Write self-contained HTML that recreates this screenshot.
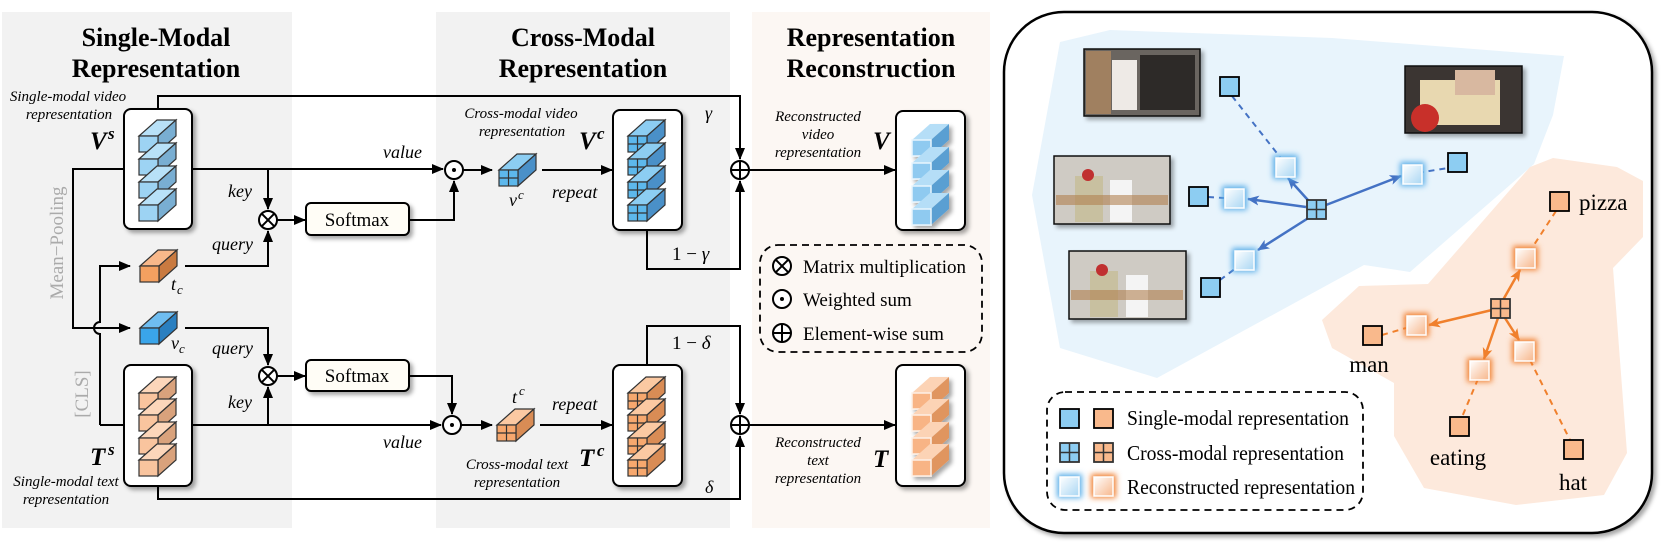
<!DOCTYPE html>
<html><head><meta charset="utf-8"><style>html,body{margin:0;padding:0;background:#fff}svg{display:block}</style></head>
<body>
<svg width="1661" height="546" viewBox="0 0 1661 546" xmlns="http://www.w3.org/2000/svg" font-family="Liberation Serif, serif">
<defs>
<marker id="ar" markerWidth="12" markerHeight="10" refX="11" refY="5" orient="auto" markerUnits="userSpaceOnUse"><path d="M0,0 L12,5 L0,10 z" fill="#000"/></marker>
<marker id="ab" markerWidth="12" markerHeight="10" refX="11" refY="5" orient="auto" markerUnits="userSpaceOnUse"><path d="M0,0 L12,5 L0,10 L3,5 z" fill="#4472c4"/></marker>
<marker id="ao" markerWidth="12" markerHeight="10" refX="11" refY="5" orient="auto" markerUnits="userSpaceOnUse"><path d="M0,0 L12,5 L0,10 L3,5 z" fill="#f0802c"/></marker>
<filter id="sh" x="-20%" y="-20%" width="150%" height="150%"><feDropShadow dx="3" dy="3" stdDeviation="2" flood-color="#000" flood-opacity="0.35"/></filter>
<filter id="gl" x="-60%" y="-60%" width="220%" height="220%"><feGaussianBlur stdDeviation="3"/></filter>
<linearGradient id="gb" x1="0" y1="0" x2="1" y2="1"><stop offset="0" stop-color="#fff"/><stop offset="1" stop-color="#a9d6f3"/></linearGradient>
<linearGradient id="go" x1="0" y1="0" x2="1" y2="1"><stop offset="0" stop-color="#fff"/><stop offset="1" stop-color="#f7b68a"/></linearGradient>
<g id="cb" stroke="#333" stroke-width="1.2"><polygon points="0,0 18,-16 37,-16 19,0" fill="#b8e1f8"/><polygon points="19,0 37,-16 37,0 19,16" fill="#79aed2"/><rect x="0" y="0" width="19" height="16" fill="#9dd3f3"/></g>
<g id="co" stroke="#333" stroke-width="1.2"><polygon points="0,0 18,-16 37,-16 19,0" fill="#fcd6ba"/><polygon points="19,0 37,-16 37,0 19,16" fill="#d9a27c"/><rect x="0" y="0" width="19" height="16" fill="#f9c49e"/></g>
<g id="cbg" stroke="#333" stroke-width="1.2"><polygon points="0,0 18,-16 37,-16 19,0" fill="#8ccdf2"/><polygon points="19,0 37,-16 37,0 19,16" fill="#4a90c8"/><rect x="0" y="0" width="19" height="16" fill="#5db8ec"/><path d="M9.5,0V16M0,8H19"/></g>
<g id="cog" stroke="#333" stroke-width="1.2"><polygon points="0,0 18,-16 37,-16 19,0" fill="#fbc9a2"/><polygon points="19,0 37,-16 37,0 19,16" fill="#d98c55"/><rect x="0" y="0" width="19" height="16" fill="#f7a86e"/><path d="M9.5,0V16M0,8H19"/></g>
<g id="crb"><polygon points="0,0 18,-16 37,-16 19,0" fill="#b5def7"/><polygon points="19,0 37,-16 37,0 19,16" fill="#5a9fd2"/><rect x="0" y="0" width="19" height="16" fill="#8fcaf0" stroke="#e8f5fd" stroke-width="1.5"/></g>
<g id="cro"><polygon points="0,0 18,-16 37,-16 19,0" fill="#fcd3b5"/><polygon points="19,0 37,-16 37,0 19,16" fill="#e0955f"/><rect x="0" y="0" width="19" height="16" fill="#f8b485" stroke="#fdf0e6" stroke-width="1.5"/></g>
<g id="sb"><use href="#cb"/><use href="#cb" y="23"/><use href="#cb" y="46"/><use href="#cb" y="69"/></g>
<g id="so"><use href="#co"/><use href="#co" y="22"/><use href="#co" y="45"/><use href="#co" y="67"/></g>
<g id="sbg"><use href="#cbg"/><use href="#cbg" y="23"/><use href="#cbg" y="46"/><use href="#cbg" y="69"/></g>
<g id="sog"><use href="#cog"/><use href="#cog" y="22"/><use href="#cog" y="45"/><use href="#cog" y="67"/></g>
<g id="srb"><use href="#crb"/><use href="#crb" y="23"/><use href="#crb" y="46"/><use href="#crb" y="69"/></g>
<g id="sro"><use href="#cro"/><use href="#cro" y="22"/><use href="#cro" y="45"/><use href="#cro" y="67"/></g>
<g id="otimes" fill="#fff" stroke="#000" stroke-width="2"><circle r="9"/><path d="M-6.4,-6.4L6.4,6.4M6.4,-6.4L-6.4,6.4"/></g>
<g id="odot" fill="#fff" stroke="#000" stroke-width="2"><circle r="9"/><circle r="2" fill="#000" stroke="none"/></g>
<g id="oplus" fill="#fff" stroke="#000" stroke-width="2"><circle r="9"/><path d="M-9,0H9M0,-9V9"/></g>
</defs>

<rect x="2" y="12" width="290" height="516" fill="#f2f2f2"/>
<rect x="436" y="12" width="294" height="516" fill="#f2f2f2"/>
<rect x="752" y="12" width="238" height="516" fill="#fcf7f3"/>

<g font-weight="bold" font-size="26" text-anchor="middle">
<text x="156" y="46">Single-Modal</text><text x="156" y="77">Representation</text>
<text x="583" y="46">Cross-Modal</text><text x="583" y="77">Representation</text>
<text x="871" y="46">Representation</text><text x="871" y="77">Reconstruction</text>
</g>

<g fill="none" stroke="#000" stroke-width="2">
<path d="M158,109V96H740V159" marker-end="url(#ar)"/>
<path d="M158,486V499H740V436" marker-end="url(#ar)"/>
<path d="M192,169H443" marker-end="url(#ar)"/>
<path d="M268,169V209" marker-end="url(#ar)"/>
<path d="M277,220H305" marker-end="url(#ar)"/>
<path d="M409,220H454V181" marker-end="url(#ar)"/>
<path d="M185,266H268V231" marker-end="url(#ar)"/>
<path d="M124,169H73V328H130" marker-end="url(#ar)"/>
<path d="M100,425V334a6,6 0 0 1 0,-12V266H130" marker-end="url(#ar)"/>
<path d="M100,425H124"/>
<path d="M185,328H268V365" marker-end="url(#ar)"/>
<path d="M277,376H305" marker-end="url(#ar)"/>
<path d="M192,425H441" marker-end="url(#ar)"/>
<path d="M268,425V387" marker-end="url(#ar)"/>
<path d="M409,376H452V414" marker-end="url(#ar)"/>
<path d="M463,170H492" marker-end="url(#ar)"/>
<path d="M542,170H612" marker-end="url(#ar)"/>
<path d="M461,425H492" marker-end="url(#ar)"/>
<path d="M540,425H612" marker-end="url(#ar)"/>
<path d="M647,230V269H740V181" marker-end="url(#ar)"/>
<path d="M647,365V326H740V414" marker-end="url(#ar)"/>
<path d="M749,170H895" marker-end="url(#ar)"/>
<path d="M749,425H895" marker-end="url(#ar)"/>
</g>
<use href="#otimes" x="268" y="220"/><use href="#otimes" x="268" y="376"/>
<use href="#odot" x="454" y="170"/><use href="#odot" x="452" y="425"/>
<use href="#oplus" x="740" y="170"/><use href="#oplus" x="740" y="425"/>

<g fill="#fff" stroke="#000" stroke-width="2" filter="url(#sh)">
<rect x="124" y="109" width="68" height="120" rx="7"/>
<rect x="124" y="365" width="68" height="121" rx="7"/>
<rect x="613" y="110" width="69" height="120" rx="7"/>
<rect x="613" y="365" width="69" height="121" rx="7"/>
<rect x="896" y="111" width="69" height="119" rx="7"/>
<rect x="896" y="365" width="69" height="121" rx="7"/>
<rect x="306" y="203" width="103" height="32" rx="5" fill="#fffdf6"/>
<rect x="306" y="360" width="103" height="31" rx="5" fill="#fffdf6"/>
</g>
<g font-size="19" text-anchor="middle"><text x="357" y="226">Softmax</text><text x="357" y="382">Softmax</text></g>

<use href="#sb" x="139" y="136"/><use href="#so" x="139" y="393"/>
<use href="#sbg" x="628" y="136"/><use href="#sog" x="628" y="393"/>
<g filter="url(#sh)"><use href="#srb" x="912" y="140"/><use href="#sro" x="912" y="393"/></g>

<g stroke="#333" stroke-width="1.2">
<polygon points="140,266 158,250 177,250 159,266" fill="#f8b88a"/><polygon points="159,266 177,250 177,266 159,282" fill="#c97a40"/><rect x="140" y="266" width="19" height="16" fill="#f4a060"/>
<polygon points="140,328 158,312 177,312 159,328" fill="#6fbdf0"/><polygon points="159,328 177,312 177,328 159,344" fill="#2a7fc0"/><rect x="140" y="328" width="19" height="16" fill="#3aa5ea"/>
</g>
<use href="#cbg" x="499" y="170"/><use href="#cog" x="497" y="425"/>

<g font-style="italic" font-size="15" text-anchor="middle">
<text x="68" y="101">Single-modal video</text><text x="69" y="119">representation</text>
<text x="66" y="486">Single-modal text</text><text x="66" y="504">representation</text>
<text x="521" y="118">Cross-modal video</text><text x="522" y="136">representation</text>
<text x="517" y="469">Cross-modal text</text><text x="517" y="487">representation</text>
<text x="818" y="121">Reconstructed</text><text x="818" y="139">video</text><text x="818" y="157">representation</text>
<text x="818" y="447">Reconstructed</text><text x="818" y="465">text</text><text x="818" y="483">representation</text>
</g>
<g font-style="italic" font-weight="bold" font-size="25">
<text x="90" y="149">V</text><text x="108" y="139" font-size="17">s</text>
<text x="90" y="465">T</text><text x="108" y="455" font-size="17">s</text>
<text x="579" y="149">V</text><text x="597" y="139" font-size="17">c</text>
<text x="579" y="466">T</text><text x="597" y="456" font-size="17">c</text>
<text x="873" y="149">V</text><text x="873" y="467">T</text>
</g>
<g font-style="italic" font-size="18">
<text x="383" y="158">value</text><text x="228" y="197">key</text><text x="212" y="250">query</text>
<text x="212" y="354">query</text><text x="228" y="408">key</text><text x="383" y="448">value</text>
<text x="552" y="198">repeat</text><text x="552" y="410">repeat</text>
<text x="171" y="290">t</text><text x="177" y="294" font-size="13">c</text>
<text x="171" y="349">v</text><text x="179" y="353" font-size="13">c</text>
<text x="509" y="206">v</text><text x="518" y="199" font-size="13">c</text>
<text x="512" y="403">t</text><text x="519" y="395" font-size="13">c</text>
<text x="705" y="119">γ</text><text x="705" y="493">δ</text>
</g>
<g font-size="19"><text x="672" y="260">1 − <tspan font-style="italic">γ</tspan></text><text x="672" y="349">1 − <tspan font-style="italic">δ</tspan></text></g>
<g font-size="19" fill="#aaa" text-anchor="middle">
<text transform="translate(63,243) rotate(-90)">Mean−Pooling</text>
<text transform="translate(88,394) rotate(-90)">[CLS]</text>
</g>

<rect x="760" y="245" width="222" height="107" rx="18" fill="none" stroke="#000" stroke-width="1.8" stroke-dasharray="7,5"/>
<use href="#otimes" x="782" y="266"/><use href="#odot" x="782" y="299"/><use href="#oplus" x="782" y="333"/>
<g font-size="19"><text x="803" y="273">Matrix multiplication</text><text x="803" y="306">Weighted sum</text><text x="803" y="340">Element-wise sum</text></g>

<rect x="1004" y="12" width="648" height="521" rx="60" fill="#fff" stroke="#000" stroke-width="2.5" filter="url(#sh)"/>
<polygon points="1060,42 1110,30 1332,38 1564,56 1553,115 1534,164 1410,272 1364,265 1157,378 1060,348 1032,195" fill="#e8f4fc"/>
<polygon points="1553,158 1617,167 1643,181 1643,237 1613,268 1627,453 1604,495 1516,505 1424,488 1394,436 1394,383 1332,348 1322,320 1359,286 1428,284 1530,167" fill="#fde9dc"/>

<g stroke="#111" stroke-width="1.5" filter="url(#sh)">
<rect x="1084" y="49" width="116" height="67" fill="#6b6560"/>
<rect x="1405" y="66" width="117" height="67" fill="#3a3530"/>
<rect x="1054" y="156" width="116" height="68" fill="#cfcbc4"/>
<rect x="1069" y="251" width="117" height="68" fill="#cfcbc4"/>
</g>
<rect x="1086" y="51" width="25" height="63" fill="#a08060"/><rect x="1112" y="60" width="25" height="50" fill="#eeeae6"/><rect x="1140" y="55" width="55" height="55" fill="#2d2a28"/>
<rect x="1420" y="80" width="80" height="45" fill="#e8d8b0"/><circle cx="1425" cy="118" r="14" fill="#c8302a"/><rect x="1455" y="70" width="40" height="25" fill="#d8b8a0"/>
<rect x="1075" y="176" width="28" height="46" fill="#c8c0a0"/><circle cx="1088" cy="175" r="6" fill="#c03030"/><rect x="1110" y="180" width="22" height="42" fill="#f4f4f4"/><rect x="1056" y="195" width="112" height="10" fill="#b08050" opacity="0.6"/>
<rect x="1090" y="271" width="28" height="46" fill="#c8c0a0"/><circle cx="1102" cy="270" r="6" fill="#c03030"/><rect x="1126" y="275" width="22" height="42" fill="#f4f4f4"/><rect x="1071" y="290" width="112" height="10" fill="#b08050" opacity="0.6"/>

<g fill="none" stroke="#4472c4" stroke-width="2" stroke-dasharray="6,5">
<path d="M1232,96L1280,157"/><path d="M1208,197L1224,198"/><path d="M1467,165L1423,172"/><path d="M1220,280L1236,268"/>
</g>
<g fill="none" stroke="#4472c4" stroke-width="2.5">
<path d="M1316,209L1288,178" marker-end="url(#ab)"/><path d="M1306,207L1248,199" marker-end="url(#ab)"/>
<path d="M1326,205L1401,176" marker-end="url(#ab)"/><path d="M1310,217L1258,250" marker-end="url(#ab)"/>
</g>
<g fill="#8dcdf2" stroke="#000" stroke-width="1.8">
<rect x="1220" y="77" width="19" height="19"/><rect x="1189" y="187" width="19" height="19"/><rect x="1448" y="153" width="19" height="19"/><rect x="1201" y="278" width="19" height="19"/>
</g>
<g>
<rect x="1273" y="155" width="25" height="24" fill="#5aaee8" filter="url(#gl)"/><rect x="1276" y="158" width="19" height="19" fill="url(#gb)" stroke="#fff" stroke-width="1.5"/>
<rect x="1222" y="186" width="25" height="24" fill="#5aaee8" filter="url(#gl)"/><rect x="1225" y="189" width="19" height="19" fill="url(#gb)" stroke="#fff" stroke-width="1.5"/>
<rect x="1400" y="162" width="25" height="24" fill="#5aaee8" filter="url(#gl)"/><rect x="1403" y="165" width="19" height="19" fill="url(#gb)" stroke="#fff" stroke-width="1.5"/>
<rect x="1232" y="248" width="25" height="24" fill="#5aaee8" filter="url(#gl)"/><rect x="1235" y="251" width="19" height="19" fill="url(#gb)" stroke="#fff" stroke-width="1.5"/>
</g>
<rect x="1307" y="200" width="19" height="19" fill="#8dcdf2" stroke="#333" stroke-width="1.8"/><path d="M1316.5,200V219M1307,209.5H1326" stroke="#333" stroke-width="1.5"/>

<g fill="none" stroke="#f0802c" stroke-width="2" stroke-dasharray="6,5">
<path d="M1556,211L1532,248"/><path d="M1382,335L1406,328"/><path d="M1478,379L1462,417"/><path d="M1530,360L1570,440"/>
</g>
<g fill="none" stroke="#f0802c" stroke-width="2.5">
<path d="M1503,300L1520,270" marker-end="url(#ao)"/><path d="M1492,310L1429,325" marker-end="url(#ao)"/>
<path d="M1498,318L1484,359" marker-end="url(#ao)"/><path d="M1505,318L1519,340" marker-end="url(#ao)"/>
</g>
<g fill="#f9b98c" stroke="#000" stroke-width="1.8">
<rect x="1550" y="192" width="19" height="19"/><rect x="1363" y="326" width="19" height="19"/><rect x="1450" y="417" width="19" height="19"/><rect x="1564" y="440" width="19" height="19"/>
</g>
<g>
<rect x="1513" y="246" width="25" height="24" fill="#f08030" filter="url(#gl)"/><rect x="1516" y="249" width="19" height="19" fill="url(#go)" stroke="#fff" stroke-width="1.5"/>
<rect x="1404" y="313" width="25" height="24" fill="#f08030" filter="url(#gl)"/><rect x="1407" y="316" width="19" height="19" fill="url(#go)" stroke="#fff" stroke-width="1.5"/>
<rect x="1467" y="358" width="25" height="24" fill="#f08030" filter="url(#gl)"/><rect x="1470" y="361" width="19" height="19" fill="url(#go)" stroke="#fff" stroke-width="1.5"/>
<rect x="1512" y="339" width="25" height="24" fill="#f08030" filter="url(#gl)"/><rect x="1515" y="342" width="19" height="19" fill="url(#go)" stroke="#fff" stroke-width="1.5"/>
</g>
<rect x="1491" y="299" width="19" height="19" fill="#f9b98c" stroke="#333" stroke-width="1.8"/><path d="M1500.5,299V318M1491,308.5H1510" stroke="#333" stroke-width="1.5"/>
<g font-size="23"><text x="1579" y="210">pizza</text><text x="1369" y="372" text-anchor="middle">man</text><text x="1458" y="465" text-anchor="middle">eating</text><text x="1573" y="490" text-anchor="middle">hat</text></g>

<rect x="1047" y="392" width="316" height="118" rx="18" fill="none" stroke="#000" stroke-width="1.8" stroke-dasharray="7,5"/>
<rect x="1060" y="409" width="19" height="19" fill="#8dcdf2" stroke="#000" stroke-width="1.8"/><rect x="1094" y="409" width="19" height="19" fill="#f9b98c" stroke="#000" stroke-width="1.8"/>
<rect x="1060" y="443" width="19" height="19" fill="#8dcdf2" stroke="#333" stroke-width="1.8"/><path d="M1069.5,443V462M1060,452.5H1079" stroke="#333" stroke-width="1.5"/>
<rect x="1094" y="443" width="19" height="19" fill="#f9b98c" stroke="#333" stroke-width="1.8"/><path d="M1103.5,443V462M1094,452.5H1113" stroke="#333" stroke-width="1.5"/>
<rect x="1057" y="474" width="25" height="24" fill="#5aaee8" filter="url(#gl)"/><rect x="1060" y="477" width="19" height="19" fill="url(#gb)" stroke="#fff" stroke-width="1.5"/>
<rect x="1091" y="474" width="25" height="24" fill="#f08030" filter="url(#gl)"/><rect x="1094" y="477" width="19" height="19" fill="url(#go)" stroke="#fff" stroke-width="1.5"/>
<g font-size="21"><text x="1127" y="425" textLength="222" lengthAdjust="spacingAndGlyphs">Single-modal representation</text><text x="1127" y="460" textLength="217" lengthAdjust="spacingAndGlyphs">Cross-modal representation</text><text x="1127" y="494" textLength="228" lengthAdjust="spacingAndGlyphs">Reconstructed representation</text></g>
</svg>
</body></html>
